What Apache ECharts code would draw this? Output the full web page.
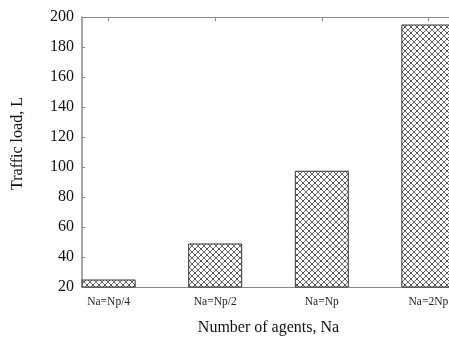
<!DOCTYPE html>
<html>
<head>
<meta charset="utf-8">
<script src="https://cdn.jsdelivr.net/npm/echarts@6/dist/echarts.min.js"></script>
<style>
  html, body { margin: 0; padding: 0; background: #fff; }
  #chart { width: 449px; height: 343px; }
</style>
</head>
<body>
<div id="chart"></div>
<script>
// Agent-count scenarios and resulting traffic load
const categories = ['Na=Np/4', 'Na=Np/2', 'Na=Np', 'Na=2Np'];
const positions = [1, 2, 3, 4];
const trafficLoad = [25, 49, 97.5, 195];
const yTicks = [20, 40, 60, 80, 100, 120, 140, 160, 180, 200];

// Cross-hatch fill tile
function hatchPattern() {
  const s = 6;
  const c = document.createElement('canvas');
  c.width = s; c.height = s;
  const g = c.getContext('2d');
  g.fillStyle = '#ffffff';
  g.fillRect(0, 0, s, s);
  g.strokeStyle = '#666666';
  g.lineWidth = 1;
  g.beginPath();
  g.moveTo(0, 0); g.lineTo(s, s);
  g.moveTo(s, 0); g.lineTo(0, s);
  g.stroke();
  g.fillStyle = '#333333';
  g.fillRect(s / 2 - 0.5, s / 2 - 0.5, 1, 1);
  return c;
}

const font = '"Liberation Serif", "Times New Roman", serif';
const chart = echarts.init(document.getElementById('chart'));

chart.setOption({
  animation: false,
  grid: { left: 82, right: -6, top: 17, bottom: 56, containLabel: false, outerBoundsMode: 'none' },
  xAxis: [
    {
      type: 'value',
      min: 0.75,
      max: 4.25,
      position: 'bottom',
      name: 'Number of agents, Na',
      nameLocation: 'middle',
      nameGap: 33,
      nameTextStyle: { fontFamily: font, fontSize: 16, color: '#111' },
      axisLine: { show: true, lineStyle: { color: '#888', width: 1 } },
      axisTick: { show: false },
      splitLine: { show: false },
      axisLabel: {
        customValues: positions,
        formatter: v => categories[positions.indexOf(v)] || '',
        fontFamily: font, fontSize: 11.5, color: '#222', margin: 9
      }
    },
    {
      type: 'value',
      min: 0.75,
      max: 4.25,
      position: 'top',
      axisLine: { show: true, lineStyle: { color: '#888', width: 1 } },
      axisTick: { show: true, inside: true, length: 4, customValues: positions, lineStyle: { color: '#888' } },
      axisLabel: { show: false },
      splitLine: { show: false }
    }
  ],
  yAxis: {
    type: 'value',
    min: 20,
    max: 200,
    interval: 20,
    name: 'Traffic load, L',
    nameLocation: 'middle',
    nameGap: 56,
    nameTextStyle: { fontFamily: font, fontSize: 16, color: '#111', padding: [0, 0, 0, 17] },
    axisLine: { show: true, lineStyle: { color: '#888', width: 1.5 } },
    axisTick: { show: true, inside: true, length: 3, lineStyle: { color: '#888' } },
    axisLabel: {
      customValues: yTicks,
      fontFamily: font, fontSize: 16, color: '#111', margin: 8
    },
    splitLine: { show: false }
  },
  series: [{
    type: 'bar',
    xAxisIndex: 0,
    barWidth: 54,
    data: positions.map((p, i) => [p, trafficLoad[i]]),
    itemStyle: {
      color: { image: hatchPattern(), repeat: 'repeat' },
      borderColor: '#333',
      borderWidth: 1
    }
  }]
});
</script>
</body>
</html>
